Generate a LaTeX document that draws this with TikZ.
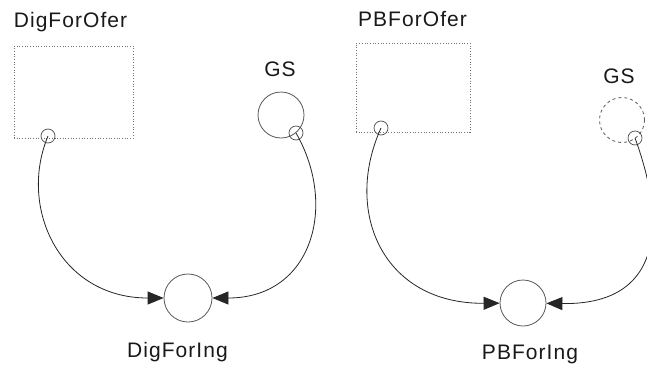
\documentclass[tikz,border=0pt]{standalone}
\usepackage{fontspec}
\setmainfont{Liberation Sans}[LetterSpace=5]
\usetikzlibrary{arrows.meta}
\begin{document}
\begin{tikzpicture}[x=1pt,y=-1pt,
  lbl/.style={font=\fontsize{21}{24}\selectfont, anchor=base, inner sep=0pt, text=black!90},
  stockbox/.style={draw=black!55, dotted, line width=0.7pt, rectangle, inner sep=0pt},
  auxc/.style={draw=black!65, circle, line width=0.8pt, inner sep=0pt, minimum size=48pt},
  ghostc/.style={draw=black!65, dashed, circle, line width=0.8pt, inner sep=0pt, minimum size=45pt},
  port/.style={draw=black!70, circle, line width=0.7pt, inner sep=0pt, minimum size=14pt},
  link/.style={draw=black!85, line width=0.8pt, -{Triangle[length=16pt,width=13pt]}}]
\useasboundingbox (0,0) rectangle (647,367);
\fill[white] (0,0) rectangle (647,367);
% left panel
\node[lbl] (tDO) at (70.5,27) {DigForOfer};
\node[stockbox, minimum width=119pt, minimum height=92pt] (bDO) at (73.5,92) {};
\node[port] (pDO) at (48,136) {};
\node[lbl] (tGS1) at (280,76) {GS};
\node[auxc, minimum size=46pt] (gs1) at (281,115) {};
\node[port] (pGS1) at (296,133) {};
\node[auxc] (cDI) at (188,298) {};
\node[lbl] (tDI) at (177.5,357) {DigForIng};
\draw[link] (pDO.center) .. controls (18,208) and (60,298) .. (cDI);
\draw[link] (pGS1.center) .. controls (338,206) and (312,298) .. (cDI);
% right panel
\node[lbl] (tPO) at (412.5,26) {PBForOfer};
\node[stockbox, minimum width=114pt, minimum height=89pt] (bPO) at (413,87.5) {};
\node[port] (pPO) at (381,128) {};
\node[lbl] (tGS2) at (619,83) {GS};
\node[ghostc] (gs2) at (622,120) {};
\node[port] (pGS2) at (635,138) {};
\node[auxc, minimum size=46pt] (cPI) at (523,303) {};
\node[lbl] (tPI) at (530,359) {PBForIng};
\draw[link] (pPO.center) .. controls (343,212) and (383,304) .. (cPI);
\draw[link] (pGS2.center) .. controls (668,228) and (660,305) .. (cPI);
\end{tikzpicture}
\end{document}
